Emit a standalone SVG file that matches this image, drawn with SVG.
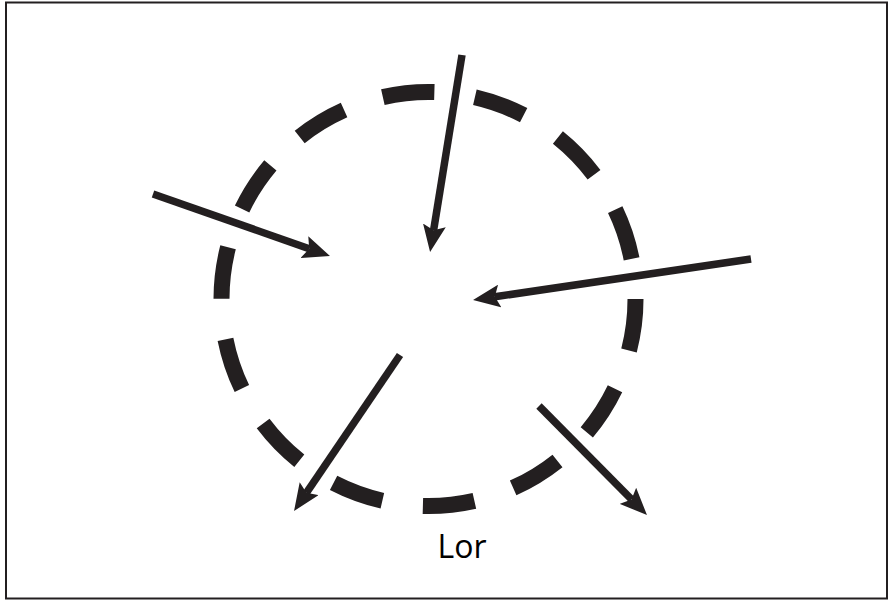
<svg xmlns="http://www.w3.org/2000/svg" width="889" height="600" viewBox="0 0 889 600">
<style>
.frame{fill:#fff;stroke:#231f20;stroke-width:2}
.ring{fill:none;stroke:#231f20;stroke-width:16;stroke-dasharray:52 40.9}
.arr{fill:none;stroke:#231f20;stroke-width:7.5;marker-end:url(#head)}
.lbl{font-family:"Open Sans","Noto Sans","DejaVu Sans",sans-serif;font-size:32px;fill:#000;text-anchor:middle}
</style>
<defs>
<marker id="head" markerUnits="userSpaceOnUse" viewBox="0 0 27 23" markerWidth="27" markerHeight="23" refX="5" refY="11.5" orient="auto">
<path d="M0,0 L27,11.5 L0,23 L5,11.5 z" fill="#231f20"/>
</marker>
</defs>
<rect class="frame" x="6" y="2.5" width="881" height="596"/>
<g id="circle">
<circle class="ring" cx="428.5" cy="299" r="207"/>
</g>
<g id="connectors">
<line class="arr" x1="462" y1="55" x2="433.6" y2="230.3"/>
<line class="arr" x1="153" y1="194" x2="309.2" y2="248.7"/>
<line class="arr" x1="751" y1="259" x2="494.8" y2="296.8"/>
<line class="arr" x1="400" y1="355" x2="306.4" y2="492.8"/>
<line class="arr" x1="539" y1="406" x2="631.5" y2="499.4"/>
</g>
<g id="label">
<text class="lbl" x="462" y="558">Lor</text>
</g>
</svg>
